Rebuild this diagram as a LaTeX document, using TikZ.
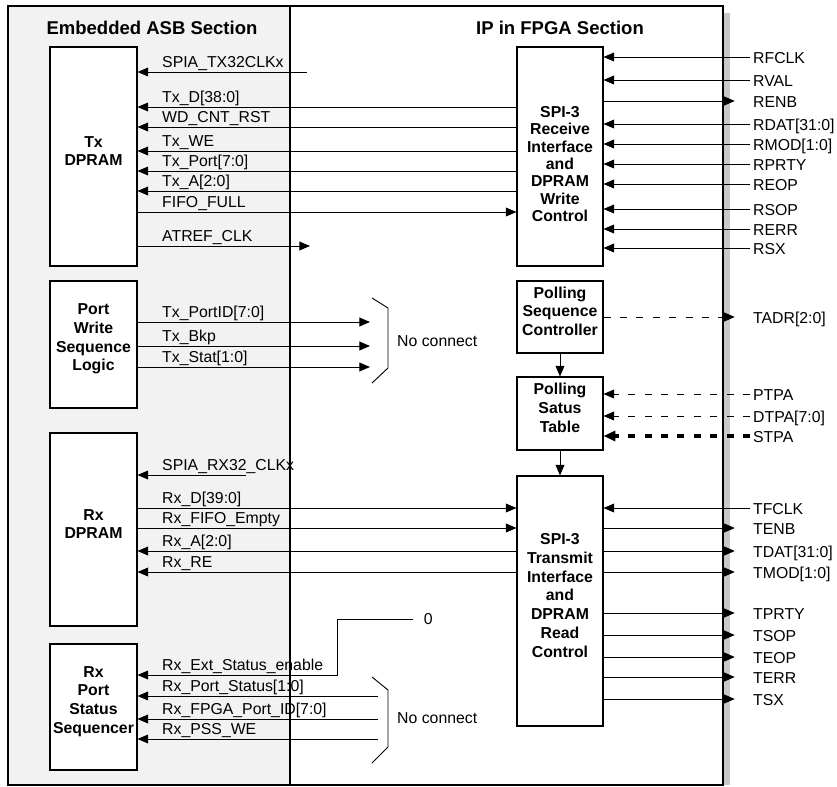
\documentclass[tikz,border=0pt]{standalone}
\usepackage{fontspec}
\setmainfont{Liberation Sans}
\usetikzlibrary{arrows.meta, positioning, fit, calc}

\newcommand{\sigfont}{\fontsize{13.5}{16}\selectfont}
\newcommand{\blkfont}{\fontsize{13.5}{16}\selectfont\bfseries}
\newcommand{\ttlfont}{\fontsize{15.8}{18}\selectfont\bfseries}

\definecolor{asbGrey}{HTML}{F2F2F2}
\definecolor{shadowGrey}{HTML}{C8C8C8}

\tikzset{
  section/.style={draw, line width=1pt, inner sep=0pt},
  blk/.style={draw, fill=white, line width=0.9pt, align=center, font=\blkfont, inner sep=0pt},
  blktext/.style={align=center, font=\blkfont, inner sep=0pt},
  ttl/.style={font=\ttlfont},
  sigL/.style={anchor=south west, font=\sigfont, inner xsep=0pt, inner ysep=1pt, text height=10pt, text depth=2.8pt},
  sigR/.style={anchor=west, font=\sigfont, inner xsep=2.5pt, inner ysep=0pt, text height=13.5pt, text depth=2.8pt},
  nctext/.style={anchor=west, font=\sigfont, inner sep=0pt},
  wire/.style={line width=0.8pt},
  sig/.style={wire, -{Triangle[length=9pt, width=7.5pt]}},
  sigout/.style={sig, shorten >=13pt},
  poll/.style={sig, dash pattern=on 6pt off 8pt},
  pollbold/.style={line width=3pt, dash pattern=on 6pt off 8pt, -{Triangle[length=10pt, width=8.5pt]}}
}

\begin{document}
\begin{tikzpicture}[x=0.03cm, y=-0.03cm]
  \useasboundingbox (0,0) rectangle (837,787);

  % sections
  \fill[shadowGrey] (723,13) rectangle (730,785);
  \node[section, fill=asbGrey, fit={(8,6) (290,785)}] (asb) {};
  \node[section, fill=white, fit={(290,6) (723,785)}] (fpga) {};
  \node[ttl] (asbttl) at (152,28) {Embedded ASB Section};
  \node[ttl] (fpgattl) at (560,28) {IP in FPGA Section};

  % blocks
  \node[blk, fit={(50,47) (137,266)}] (txram) {Tx\\DPRAM};
  \node[blk, fit={(50,281) (137,408)}] (pwsl) {Port\\Write\\Sequence\\Logic};
  \node[blk, fit={(50,433) (137,626)}] (rxram) {Rx\\DPRAM};
  \node[blk, fit={(50,644) (137,770)}] (rxpss) {Rx\\Port\\Status\\Sequencer};
  \node[blk, fit={(517,47) (603,266)}] (spirx) {};
  \node[blktext, font={\fontsize{13.5}{14.8}\selectfont\bfseries}] (spirxtxt) at (560,164) {SPI-3\\Receive\\Interface\\and\\DPRAM\\Write\\Control};
  \node[blk, fit={(517,281) (603,353)}] (psc) {Polling\\Sequence\\Controller};
  \node[blk, fit={(517,377) (603,450)}] (pst) {Polling\\Satus\\Table};
  \node[blk, fit={(517,476) (603,726)}] (spitx) {SPI-3\\Transmit\\Interface\\and\\DPRAM\\Read\\Control};

  \draw[sig] (psc) -- (pst);
  \draw[sig] (pst) -- (spitx);

  % Tx DPRAM signals
  \node[sigL] (txclk) at (162,72) {SPIA\_TX32CLKx};
  \node[sigL] (txd) at (162,107) {Tx\_D[38:0]};
  \node[sigL] (wdrst) at (162,127) {WD\_CNT\_RST};
  \node[sigL] (txwe) at (162,151) {Tx\_WE};
  \node[sigL] (txport) at (162,171) {Tx\_Port[7:0]};
  \node[sigL] (txa) at (162,191) {Tx\_A[2:0]};
  \node[sigL] (fifofull) at (162,212) {FIFO\_FULL};
  \node[sigL] (atref) at (162,246) {ATREF\_CLK};
  \coordinate (txclksrc) at (307,72);
  \coordinate (atrefend) at (310,246);
  \draw[sig] (txclksrc) -- (txram.east |- txclksrc);
  \draw[sig] (spirx.west |- txd.south) -- (txram.east |- txd.south);
  \draw[sig] (spirx.west |- wdrst.south) -- (txram.east |- wdrst.south);
  \draw[sig] (spirx.west |- txwe.south) -- (txram.east |- txwe.south);
  \draw[sig] (spirx.west |- txport.south) -- (txram.east |- txport.south);
  \draw[sig] (spirx.west |- txa.south) -- (txram.east |- txa.south);
  \draw[sig] (txram.east |- fifofull.south) -- (spirx.west |- fifofull.south);
  \draw[sig] (txram.east |- atrefend) -- (atrefend);

  % SPI-3 receive pins
  \node[sigR] (rfclk) at (750,57) {RFCLK};
  \node[sigR] (rval) at (750,80) {RVAL};
  \node[sigR] (renb) at (750,101) {RENB};
  \node[sigR] (rdat) at (750,124) {RDAT[31:0]};
  \node[sigR] (rmod) at (750,144) {RMOD[1:0]};
  \node[sigR] (rprty) at (750,164) {RPRTY};
  \node[sigR] (reop) at (750,184) {REOP};
  \node[sigR] (rsop) at (750,209) {RSOP};
  \node[sigR] (rerr) at (750,229) {RERR};
  \node[sigR] (rsx) at (750,248) {RSX};
  \draw[sig] (rfclk.west) -- (spirx.east |- rfclk.west);
  \draw[sig] (rval.west) -- (spirx.east |- rval.west);
  \draw[sigout] (spirx.east |- renb.west) -- (renb.west);
  \draw[sig] (rdat.west) -- (spirx.east |- rdat.west);
  \draw[sig] (rmod.west) -- (spirx.east |- rmod.west);
  \draw[sig] (rprty.west) -- (spirx.east |- rprty.west);
  \draw[sig] (reop.west) -- (spirx.east |- reop.west);
  \draw[sig] (rsop.west) -- (spirx.east |- rsop.west);
  \draw[sig] (rerr.west) -- (spirx.east |- rerr.west);
  \draw[sig] (rsx.west) -- (spirx.east |- rsx.west);

  % port write sequence logic (no connect)
  \node[sigL] (txpid) at (162,322) {Tx\_PortID[7:0]};
  \node[sigL] (txbkp) at (162,346) {Tx\_Bkp};
  \node[sigL] (txstat) at (162,367) {Tx\_Stat[1:0]};
  \coordinate (ncend) at (370,340);
  \draw[sig] (pwsl.east |- txpid.south) -- (ncend |- txpid.south);
  \draw[sig] (pwsl.east |- txbkp.south) -- (ncend |- txbkp.south);
  \draw[sig] (pwsl.east |- txstat.south) -- (ncend |- txstat.south);
  \draw[wire] (372,298) -- (388,308) -- (388,368) -- (372,383);
  \node[nctext] (nctx) at (397,341) {No connect};

  % polling pins
  \node[sigR] (tadr) at (750,317) {TADR[2:0]};
  \node[sigR] (ptpa) at (750,394) {PTPA};
  \node[sigR] (dtpa) at (750,416) {DTPA[7:0]};
  \node[sigR] (stpa) at (750,436) {STPA};
  \draw[poll, shorten >=13pt] (psc.east |- tadr.west) -- (tadr.west);
  \draw[poll] (ptpa.west) -- (pst.east |- ptpa.west);
  \draw[poll] (dtpa.west) -- (pst.east |- dtpa.west);
  \draw[pollbold] (stpa.west) -- (pst.east |- stpa.west);

  % Rx DPRAM signals
  \node[sigL] (rxclk) at (162,475) {SPIA\_RX32\_CLKx};
  \node[sigL] (rxd) at (162,508) {Rx\_D[39:0]};
  \node[sigL] (rxempty) at (162,528) {Rx\_FIFO\_Empty};
  \node[sigL] (rxa) at (162,551) {Rx\_A[2:0]};
  \node[sigL] (rxre) at (162,572) {Rx\_RE};
  \coordinate (rxclksrc) at (246,475);
  \draw[sig] (rxclksrc) -- (rxram.east |- rxclksrc);
  \draw[sig] (rxram.east |- rxd.south) -- (spitx.west |- rxd.south);
  \draw[sig] (rxram.east |- rxempty.south) -- (spitx.west |- rxempty.south);
  \draw[sig] (spitx.west |- rxa.south) -- (rxram.east |- rxa.south);
  \draw[sig] (spitx.west |- rxre.south) -- (rxram.east |- rxre.south);

  % SPI-3 transmit pins
  \node[sigR] (tfclk) at (750,508) {TFCLK};
  \node[sigR] (tenb) at (750,528) {TENB};
  \node[sigR] (tdat) at (750,551) {TDAT[31:0]};
  \node[sigR] (tmod) at (750,572) {TMOD[1:0]};
  \node[sigR] (tprty) at (750,613) {TPRTY};
  \node[sigR] (tsop) at (750,635) {TSOP};
  \node[sigR] (teop) at (750,657) {TEOP};
  \node[sigR] (terr) at (750,677) {TERR};
  \node[sigR] (tsx) at (750,699) {TSX};
  \draw[sig] (tfclk.west) -- (spitx.east |- tfclk.west);
  \draw[sigout] (spitx.east |- tenb.west) -- (tenb.west);
  \draw[sigout] (spitx.east |- tdat.west) -- (tdat.west);
  \draw[sigout] (spitx.east |- tmod.west) -- (tmod.west);
  \draw[sigout] (spitx.east |- tprty.west) -- (tprty.west);
  \draw[sigout] (spitx.east |- tsop.west) -- (tsop.west);
  \draw[sigout] (spitx.east |- teop.west) -- (teop.west);
  \draw[sigout] (spitx.east |- terr.west) -- (terr.west);
  \draw[sigout] (spitx.east |- tsx.west) -- (tsx.west);

  % Rx port status sequencer
  \node[sigL] (rxext) at (162,675) {Rx\_Ext\_Status\_enable};
  \node[sigL] (rxpst) at (162,696) {Rx\_Port\_Status[1:0]};
  \node[sigL] (rxfpid) at (162,719) {Rx\_FPGA\_Port\_ID[7:0]};
  \node[sigL] (rxpwe) at (162,739) {Rx\_PSS\_WE};
  \node[nctext, inner xsep=9pt] (zero) at (413,619) {0};
  \coordinate (extbend) at (337,675);
  \draw[sig] (zero.west) -| (extbend) -- (rxpss.east |- extbend);
  \coordinate (ncsrc) at (378,718);
  \draw[sig] (ncsrc |- rxpst.south) -- (rxpss.east |- rxpst.south);
  \draw[sig] (ncsrc |- rxfpid.south) -- (rxpss.east |- rxfpid.south);
  \draw[sig] (ncsrc |- rxpwe.south) -- (rxpss.east |- rxpwe.south);
  \draw[wire] (372,677) -- (388,690) -- (388,747) -- (372,763);
  \node[nctext] (ncrx) at (397,718) {No connect};
\end{tikzpicture}
\end{document}
